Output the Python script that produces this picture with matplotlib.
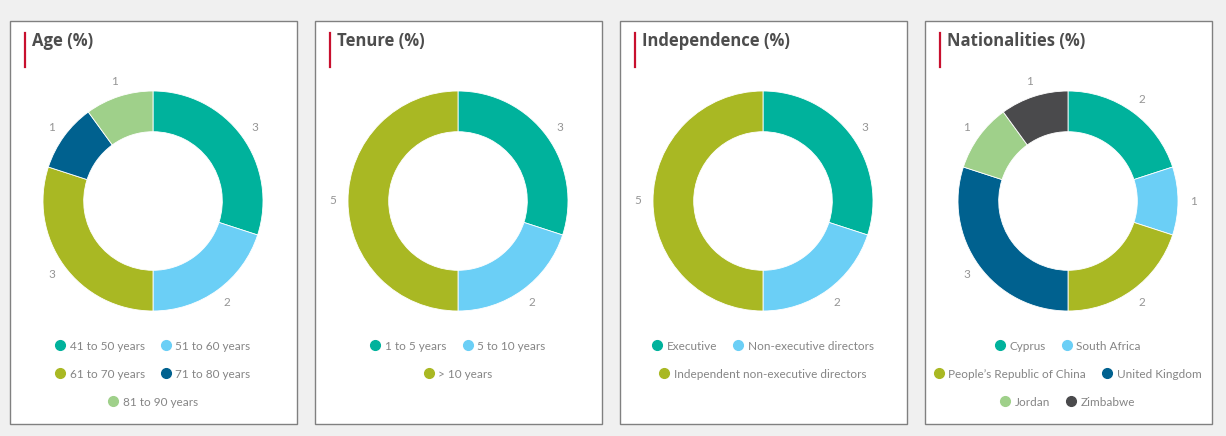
import matplotlib
matplotlib.use('Agg')
import matplotlib.pyplot as plt
from matplotlib.patches import Rectangle
from matplotlib.lines import Line2D

plt.rcParams['font.family'] = ['Lato', 'DejaVu Sans']

# data
titles = ['Age (%)', 'Tenure (%)', 'Independence (%)', 'Nationalities (%)']

age_labels = ['41 to 50 years', '51 to 60 years', '61 to 70 years', '71 to 80 years', '81 to 90 years']
age_values = [3, 2, 3, 1, 1]

tenure_labels = ['1 to 5 years', '5 to 10 years', '> 10 years']
tenure_values = [3, 2, 5]

indep_labels = ['Executive', 'Non-executive directors', 'Independent non-executive directors']
indep_values = [3, 2, 5]

nat_labels = ['Cyprus', 'South Africa', 'People\u2019s Republic of China', 'United Kingdom', 'Jordan', 'Zimbabwe']
nat_values = [2, 1, 2, 3, 1, 1]

palette = ['#00b29c', '#6bcff6', '#a9b823', '#00618f', '#9fd08a', '#4a4a4c']

# how legend entries wrap into rows for each panel
legend_rows = [[2, 2, 1], [2, 1], [2, 1], [2, 2, 2]]

W, H = 1226, 436
fig = plt.figure(figsize=(W / 100, H / 100), dpi=100)
fig.patch.set_facecolor('#f0f0f0')

def fx(px):
    return px / W

def fy(py):
    return 1 - py / H

panels = [(age_labels, age_values), (tenure_labels, tenure_values),
          (indep_labels, indep_values), (nat_labels, nat_values)]

left_edges = [10, 315, 620, 925]
pw, top, bottom = 287, 21, 424
R = 110
cy = 201
row_y = [346, 374, 402]

for i, (labels, values) in enumerate(panels):
    x0 = left_edges[i]
    # panel box (behind the donut axes)
    fig.patches.append(Rectangle((fx(x0), fy(bottom)), fx(pw), (bottom - top) / H,
                                 transform=fig.transFigure, facecolor='white',
                                 edgecolor='#808080', linewidth=1, zorder=-5))
    # red marker + title
    fig.add_artist(Line2D([fx(x0 + 15), fx(x0 + 15)], [fy(33), fy(67)],
                          color='#c8102e', linewidth=1.6))
    fig.text(fx(x0 + 22), fy(41), titles[i], fontsize=12, fontweight='bold',
             family=['Open Sans', 'DejaVu Sans'],
             color='#4d4d4d', va='center', ha='left')

    # donut
    cx = x0 + 143
    span = 2.8 * R
    ax = fig.add_axes([fx(cx - span / 2), fy(cy + span / 2), fx(span), span / H])
    cols = palette[:len(values)]
    wedges, texts = ax.pie(values, colors=cols, startangle=90, counterclock=False,
                           radius=1, labels=[str(v) for v in values],
                           labeldistance=1.14,
                           wedgeprops=dict(width=0.37, edgecolor='white', linewidth=0.6),
                           textprops=dict(color='#959595', fontsize=8.5))
    for t in texts:
        t.set_ha('center')
        t.set_va('center')
    ax.set_xlim(-1.4, 1.4)
    ax.set_ylim(-1.4, 1.4)
    ax.set_aspect('equal')
    ax.axis('off')

    # legend rows
    start = 0
    for r, n in enumerate(legend_rows[i]):
        idx = range(start, start + n)
        handles = [Line2D([], [], marker='o', linestyle='none', markersize=7,
                          markerfacecolor=palette[k], markeredgecolor=palette[k])
                   for k in idx]
        leg = fig.legend(handles, [labels[k] for k in idx], loc='center',
                         bbox_to_anchor=(fx(cx), fy(row_y[r])), ncol=n, frameon=False,
                         fontsize=8.5, handlelength=0.8, handletextpad=0.4,
                         columnspacing=1.4, borderpad=0, borderaxespad=0)
        for t in leg.get_texts():
            t.set_color('#858585')
        start += n

fig.savefig('out.png', dpi=100, facecolor=fig.get_facecolor())
